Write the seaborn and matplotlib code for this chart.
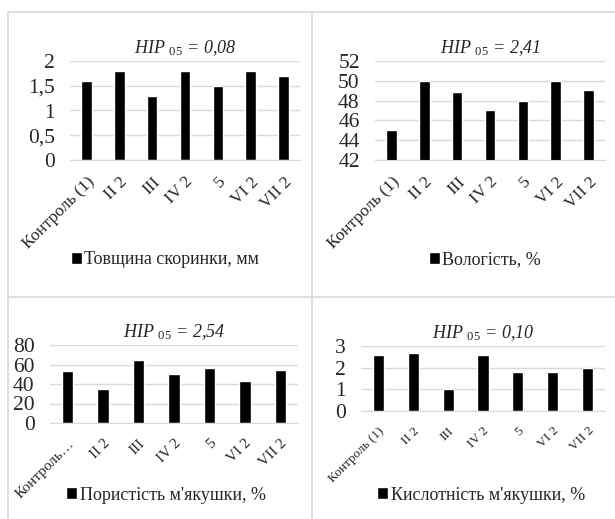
import matplotlib
matplotlib.use('Agg')
import matplotlib.pyplot as plt
import seaborn as sns
from matplotlib.lines import Line2D

# categories
groups = ['Контроль (1)', 'II 2', 'III', 'IV 2', '5', 'VI 2', 'VII 2']
groups_short = ['Контроль…', 'II 2', 'III', 'IV 2', '5', 'VI 2', 'VII 2']

# series values
thickness = [1.6, 1.8, 1.3, 1.8, 1.5, 1.8, 1.7]
moisture = [45, 50, 48.9, 47, 48, 50, 49.1]
porosity = [53, 35, 65, 50, 56, 43, 54]
acidity = [2.6, 2.7, 1.0, 2.6, 1.8, 1.8, 2.0]

titles = ['0,08', '2,41', '2,54', '0,10']
legend_labels = ['Товщина скоринки, мм', 'Вологість, %',
                 "Пористість м'якушки, %", "Кислотність м'якушки, %"]

sns.set_style('white')
plt.rcParams['font.family'] = ['Liberation Serif', 'DejaVu Serif']
plt.rcParams['mathtext.fontset'] = 'custom'
plt.rcParams['mathtext.rm'] = 'Liberation Serif'
plt.rcParams['mathtext.it'] = 'Liberation Serif:italic'

fig = plt.figure(figsize=(6.15, 5.19), dpi=100)

W, H = 615, 519
def px_axes(l, r, t, b):
    return fig.add_axes([l / W, 1 - b / H, (r - l) / W, (b - t) / H])

panels = [
    dict(box=(70, 300, 61, 160), vals=thickness, labels=groups, ylim=(0, 2), step=0.5,
         fmt=lambda v: ('%g' % v).replace('.', ','), lab_fs=12.5, leg=(165, 260)),
    dict(box=(375, 605, 61, 160), vals=moisture, labels=groups, ylim=(42, 52), step=2,
         fmt=lambda v: '%d' % v, lab_fs=12.5, leg=(485, 260)),
    dict(box=(50, 298, 345, 423), vals=porosity, labels=groups_short, ylim=(0, 80), step=20,
         fmt=lambda v: '%d' % v, lab_fs=11, leg=(166, 495)),
    dict(box=(361, 605, 346, 411), vals=acidity, labels=groups, ylim=(0, 3), step=1,
         fmt=lambda v: '%d' % v, lab_fs=9.5, leg=(481, 495)),
]

for p, t, lab in zip(panels, titles, legend_labels):
    ax = px_axes(*p['box'])
    sns.barplot(x=list(range(len(p['vals']))), y=p['vals'], color='black', width=0.32,
                ax=ax, label=lab, saturation=1)
    lo, hi = p['ylim']
    ax.set_ylim(lo, hi)
    ticks = []
    v = lo
    while v <= hi + 1e-9:
        ticks.append(v)
        v += p['step']
    ax.set_yticks(ticks)
    ax.set_yticklabels([p['fmt'](v) for v in ticks], fontsize=15.5)
    ax.set_xticks(range(len(p['labels'])))
    ax.set_xticklabels(p['labels'], rotation=45, ha='right', rotation_mode='anchor',
                       fontsize=p['lab_fs'])
    ax.set_xlim(-0.5, len(p['vals']) - 0.5)
    ax.yaxis.grid(True, color='#d9d9d9', lw=1)
    ax.set_axisbelow(True)
    for s in ['top', 'right', 'left']:
        ax.spines[s].set_visible(False)
    ax.spines['bottom'].set_color('#d9d9d9')
    ax.tick_params(axis='y', length=0, pad=11)
    ax.tick_params(axis='x', length=0, pad=10)
    ax.set_xlabel('')
    ax.set_title(r'HIP $_{\mathit{05}}$ = ' + t, fontstyle='italic', fontsize=13, pad=6)
    ax.legend(loc='center', bbox_to_anchor=(p['leg'][0] / W, 1 - p['leg'][1] / H),
              bbox_transform=fig.transFigure, frameon=False, fontsize=13,
              handlelength=0.6, handleheight=0.6, handletextpad=0.15)

# panel frames
gc = '#d9d9d9'
for xs, ys in [((8, 615), (12, 12)), ((8, 8), (12, 519)), ((312, 312), (12, 519)),
               ((8, 615), (296.5, 296.5))]:
    fig.add_artist(Line2D([x / W for x in xs], [1 - y / H for y in ys],
                          color=gc, lw=1.2, transform=fig.transFigure))

fig.savefig('out.png', dpi=100)
